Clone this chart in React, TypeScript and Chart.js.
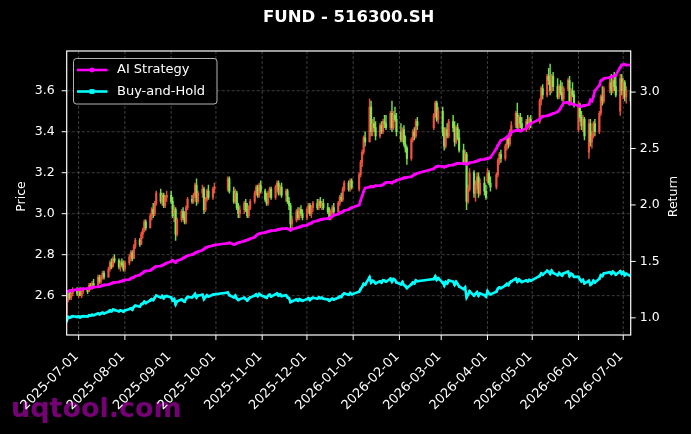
import { useEffect, useRef } from "react";
import { Chart, registerables } from "chart.js";

Chart.register(...registerables);

const TITLE = "FUND - 516300.SH";
const LEGEND_LABELS = ["AI Strategy", "Buy-and-Hold"];
const WATERMARK = "uqtool.com";
const PRICE_LABEL = "Price";
const RETURN_LABEL = "Return";

const FIRST_DAY = "2025-06-23";
const LAST_DAY = "2026-07-06";
const HOLIDAYS = [
  "2025-10-01", "2025-10-02", "2025-10-03", "2025-10-06", "2025-10-07", "2025-10-08",
  "2026-01-01", "2026-01-02",
  "2026-02-16", "2026-02-17", "2026-02-18", "2026-02-19", "2026-02-20", "2026-02-23",
  "2026-04-06", "2026-05-01", "2026-05-04", "2026-05-05", "2026-06-19",
];

const X_TICK_LABELS = [
  "2025-07-01", "2025-08-01", "2025-09-01", "2025-10-01", "2025-11-01", "2025-12-01",
  "2026-01-01", "2026-02-01", "2026-03-01", "2026-04-01", "2026-05-01", "2026-06-01", "2026-07-01",
];
const PRICE_TICKS = [2.6, 2.8, 3.0, 3.2, 3.4, 3.6];
const RETURN_TICKS = [1.0, 1.5, 2.0, 2.5, 3.0];

// [open, high, low, close] per trading day
const candles: number[][] = [
  // 2025-06
  [2.51,2.59,2.49,2.58],[2.58,2.62,2.57,2.61],[2.62,2.63,2.58,2.59],[2.59,2.62,2.58,2.61],[2.61,2.64,2.60,2.63],[2.63,2.64,2.60,2.61],
  // 2025-07
  [2.61,2.63,2.59,2.62],[2.62,2.64,2.60,2.60],[2.60,2.63,2.59,2.62],[2.62,2.64,2.61,2.63],[2.63,2.64,2.61,2.62],
  [2.62,2.66,2.62,2.65],[2.65,2.66,2.63,2.64],[2.64,2.67,2.63,2.66],[2.66,2.68,2.64,2.65],
  [2.65,2.70,2.65,2.69],[2.69,2.70,2.66,2.67],[2.67,2.70,2.66,2.69],[2.69,2.72,2.68,2.71],[2.71,2.72,2.68,2.69],
  [2.69,2.74,2.69,2.73],[2.73,2.77,2.72,2.76],[2.76,2.78,2.73,2.74],[2.74,2.79,2.74,2.78],[2.78,2.80,2.76,2.77],
  [2.77,2.78,2.73,2.74],[2.74,2.77,2.72,2.76],[2.76,2.78,2.74,2.75],[2.75,2.77,2.72,2.73],
  // 2025-08
  [2.73,2.77,2.72,2.76],
  [2.76,2.80,2.75,2.79],[2.79,2.82,2.77,2.81],[2.81,2.82,2.77,2.78],[2.78,2.85,2.78,2.84],[2.84,2.88,2.83,2.87],
  [2.87,2.88,2.84,2.85],[2.85,2.91,2.85,2.90],[2.90,2.93,2.88,2.92],[2.92,2.97,2.91,2.96],[2.96,2.97,2.92,2.93],
  [2.93,3.00,2.93,2.99],[2.99,3.03,2.97,3.02],[3.02,3.05,2.98,3.00],[3.00,3.06,2.99,3.05],[3.05,3.11,3.04,3.10],
  [3.10,3.12,3.05,3.06],[3.06,3.10,3.04,3.09],[3.09,3.10,3.03,3.04],[3.04,3.09,3.03,3.08],[3.08,3.11,3.06,3.09],
  // 2025-09
  [3.09,3.11,3.05,3.06],[3.06,3.08,2.98,2.99],[3.00,3.04,2.96,3.02],[3.02,3.03,2.87,2.90],[2.90,2.98,2.89,2.97],
  [2.97,3.02,2.96,3.01],[3.01,3.03,2.97,2.98],[2.98,3.01,2.95,2.96],[2.96,3.04,2.95,3.03],[3.03,3.08,3.02,3.07],
  [3.07,3.09,3.05,3.06],[3.06,3.10,3.05,3.09],[3.09,3.15,3.08,3.14],[3.14,3.17,3.04,3.06],[3.06,3.11,3.05,3.10],
  [3.10,3.14,3.08,3.12],[3.12,3.13,3.00,3.02],[3.02,3.08,3.01,3.07],[3.07,3.12,3.06,3.11],[3.11,3.14,3.07,3.08],
  [3.08,3.13,3.07,3.12],[3.12,3.15,3.10,3.13],
  // 2025-10
  [3.12,3.18,3.11,3.17],[3.17,3.18,3.10,3.11],
  [3.11,3.13,3.05,3.06],[3.06,3.12,3.05,3.10],[3.10,3.11,3.02,3.03],[3.03,3.05,2.98,3.00],[3.00,3.04,2.98,3.02],
  [3.02,3.06,3.00,3.05],[3.05,3.07,3.01,3.02],[3.02,3.05,2.98,2.99],[2.99,3.04,2.98,3.03],[3.03,3.07,3.02,3.06],
  [3.06,3.11,3.05,3.10],[3.10,3.14,3.09,3.13],[3.13,3.14,3.08,3.09],[3.09,3.15,3.08,3.14],[3.14,3.16,3.10,3.11],
  // 2025-11
  [3.11,3.12,3.06,3.07],[3.07,3.10,3.04,3.05],[3.05,3.11,3.04,3.10],[3.10,3.13,3.08,3.12],[3.12,3.13,3.07,3.08],
  [3.08,3.14,3.07,3.13],[3.13,3.16,3.11,3.15],[3.15,3.16,3.09,3.10],[3.10,3.14,3.09,3.13],[3.13,3.15,3.08,3.09],
  [3.09,3.12,3.06,3.11],[3.11,3.12,3.05,3.06],[3.06,3.08,3.02,3.04],[3.04,3.05,2.93,2.95],[2.95,2.99,2.93,2.97],
  [2.97,3.02,2.96,3.01],[3.01,3.03,2.97,2.98],[2.98,3.03,2.97,3.02],[3.02,3.04,2.99,3.00],[3.00,3.02,2.97,2.98],
  // 2025-12
  [2.98,3.03,2.97,3.02],[3.02,3.05,3.00,3.04],[3.04,3.05,2.99,3.00],[3.00,3.04,2.98,3.03],[3.03,3.06,3.01,3.05],
  [3.05,3.07,3.02,3.03],[3.03,3.07,3.02,3.06],[3.06,3.08,3.03,3.04],[3.04,3.06,3.02,3.05],[3.05,3.07,3.02,3.03],
  [3.03,3.05,3.00,3.01],[3.01,3.03,2.97,2.98],[2.98,3.02,2.97,3.01],[3.01,3.04,3.00,3.03],[3.03,3.05,3.00,3.01],
  [3.01,3.06,3.00,3.05],[3.05,3.09,3.04,3.08],[3.08,3.10,3.06,3.07],[3.07,3.13,3.06,3.12],[3.12,3.16,3.11,3.15],
  [3.15,3.16,3.11,3.12],[3.12,3.17,3.11,3.16],[3.16,3.17,3.12,3.13],
  // 2026-01
  [3.12,3.20,3.11,3.19],[3.19,3.26,3.18,3.25],[3.25,3.31,3.23,3.30],[3.30,3.38,3.29,3.37],[3.37,3.40,3.33,3.35],
  [3.35,3.56,3.35,3.52],[3.52,3.55,3.38,3.40],[3.40,3.46,3.38,3.44],[3.44,3.47,3.40,3.42],[3.42,3.45,3.36,3.38],
  [3.38,3.44,3.37,3.43],[3.43,3.45,3.39,3.40],[3.40,3.46,3.39,3.45],[3.45,3.48,3.42,3.44],[3.44,3.48,3.41,3.42],
  [3.42,3.50,3.41,3.49],[3.49,3.55,3.40,3.42],[3.42,3.50,3.41,3.48],[3.48,3.52,3.45,3.46],[3.46,3.49,3.38,3.40],
  // 2026-02
  [3.40,3.44,3.35,3.36],[3.36,3.42,3.35,3.41],[3.41,3.43,3.33,3.34],[3.34,3.38,3.30,3.32],[3.32,3.33,3.24,3.27],
  [3.27,3.37,3.26,3.36],[3.36,3.41,3.35,3.40],[3.40,3.42,3.36,3.38],[3.38,3.46,3.37,3.45],[3.45,3.47,3.41,3.43],
  [3.42,3.49,3.41,3.48],[3.48,3.55,3.47,3.54],[3.54,3.55,3.45,3.46],[3.46,3.52,3.44,3.50],
  // 2026-03
  [3.50,3.52,3.38,3.40],[3.40,3.42,3.31,3.33],[3.33,3.42,3.32,3.41],[3.41,3.44,3.37,3.38],[3.38,3.46,3.37,3.45],
  [3.45,3.48,3.40,3.42],[3.42,3.45,3.33,3.35],[3.35,3.43,3.34,3.42],[3.42,3.44,3.36,3.37],[3.37,3.41,3.30,3.31],
  [3.31,3.34,3.24,3.25],[3.25,3.31,3.24,3.29],[3.29,3.30,3.02,3.06],[3.06,3.14,3.05,3.12],[3.12,3.22,3.11,3.20],
  [3.20,3.21,3.08,3.10],[3.10,3.16,3.06,3.14],[3.14,3.20,3.12,3.18],[3.18,3.20,3.08,3.10],[3.10,3.17,3.09,3.15],
  [3.15,3.18,3.09,3.11],[3.11,3.14,3.07,3.08],
  // 2026-04
  [3.16,3.22,3.15,3.20],[3.20,3.21,3.14,3.15],[3.15,3.18,3.11,3.13],
  [3.13,3.20,3.12,3.19],[3.19,3.27,3.18,3.26],[3.26,3.30,3.24,3.29],[3.29,3.31,3.25,3.27],
  [3.27,3.34,3.26,3.33],[3.33,3.38,3.31,3.37],[3.37,3.38,3.32,3.34],[3.34,3.41,3.33,3.40],[3.40,3.45,3.38,3.43],
  [3.43,3.50,3.42,3.49],[3.49,3.54,3.40,3.42],[3.42,3.48,3.41,3.47],[3.47,3.49,3.42,3.44],[3.44,3.47,3.40,3.41],
  [3.41,3.46,3.40,3.45],[3.45,3.48,3.42,3.43],[3.43,3.47,3.41,3.46],[3.46,3.48,3.42,3.44],
  // 2026-05
  [3.45,3.56,3.44,3.55],[3.55,3.62,3.53,3.61],[3.61,3.63,3.56,3.58],
  [3.58,3.68,3.57,3.67],[3.67,3.71,3.63,3.65],[3.65,3.73,3.58,3.60],[3.60,3.68,3.59,3.67],[3.67,3.69,3.60,3.62],
  [3.62,3.66,3.56,3.57],[3.57,3.63,3.56,3.62],[3.62,3.65,3.58,3.59],[3.59,3.64,3.55,3.56],[3.56,3.62,3.55,3.61],
  [3.61,3.66,3.60,3.65],[3.65,3.67,3.53,3.55],[3.55,3.61,3.54,3.60],[3.60,3.64,3.57,3.58],[3.58,3.60,3.52,3.53],
  // 2026-06
  [3.41,3.55,3.40,3.53],[3.53,3.54,3.45,3.47],[3.47,3.50,3.41,3.43],[3.43,3.48,3.40,3.46],[3.46,3.47,3.36,3.38],
  [3.30,3.46,3.27,3.44],[3.44,3.46,3.33,3.35],[3.35,3.40,3.32,3.38],[3.38,3.45,3.37,3.44],[3.44,3.46,3.38,3.40],
  [3.40,3.50,3.39,3.49],[3.49,3.58,3.48,3.57],[3.57,3.62,3.53,3.55],[3.55,3.62,3.54,3.61],
  [3.61,3.66,3.59,3.64],[3.64,3.68,3.58,3.60],[3.60,3.66,3.59,3.65],[3.65,3.69,3.60,3.62],[3.62,3.67,3.57,3.58],
  [3.50,3.68,3.48,3.66],[3.66,3.68,3.58,3.60],
  // 2026-07
  [3.60,3.66,3.56,3.64],[3.64,3.65,3.55,3.57],[3.57,3.62,3.54,3.60],[3.60,3.61,3.53,3.55],
];

const aiStrategy = [
  1.23,1.235,1.24,1.24,1.245,1.25,
  1.25,1.252,1.255,1.258, 1.26,1.263,1.266,1.27,1.272, 1.275,1.278,1.282,1.286,1.29, 1.296,1.30,1.305,1.31,1.314, 1.318,1.322,1.326,1.33,
  1.335, 1.34,1.35,1.355,1.36,1.37, 1.38,1.39,1.40,1.41,1.415, 1.42,1.43,1.44,1.45,1.455, 1.46,1.465,1.47,1.48,1.485,
  1.50,1.51,1.50,1.49,1.505, 1.52,1.53,1.535,1.545,1.55, 1.56,1.565,1.575,1.58,1.585, 1.60,1.61,1.62,1.625,1.63, 1.64,1.645,
  1.66,1.665, 1.65,1.655,1.66,1.665,1.67, 1.68,1.685,1.69,1.695,1.70, 1.715,1.73,1.74,1.745,1.75,
  1.755,1.76,1.765,1.77,1.772, 1.775,1.78,1.782,1.785,1.79, 1.792,1.79,1.785,1.775,1.785, 1.795,1.80,1.805,1.81,1.815,
  1.82,1.83,1.835,1.84,1.85, 1.86,1.865,1.87,1.872,1.875, 1.88,1.885,1.89,1.90,1.91, 1.92,1.93,1.935,1.94,1.95, 1.96,1.97,1.975,
  2.00,2.04,2.08,2.12,2.15, 2.16,2.165,2.16,2.165,2.17, 2.17,2.175,2.18,2.19,2.20, 2.20,2.195,2.205,2.21,2.22,
  2.23,2.235,2.24,2.24,2.245, 2.25,2.26,2.27,2.275,2.28, 2.32,2.335,2.34,2.345,
  2.34,2.335,2.34,2.345,2.35, 2.355,2.36,2.365,2.37,2.37, 2.365,2.37,2.36,2.365,2.375, 2.38,2.385,2.39,2.395,2.40, 2.405,2.41,
  2.41,2.415,2.42, 2.50,2.53,2.55,2.57, 2.59,2.60,2.61,2.63,2.645, 2.66,2.665,2.66,2.655,2.66, 2.68,2.70,2.71,2.72,
  2.76,2.775,2.785, 2.79,2.795,2.80,2.805,2.81, 2.825,2.84,2.86,2.88,2.905, 2.91,2.895,2.90,2.895,2.89,
  2.88,2.875,2.875,2.88,2.88, 2.89,2.93,2.92,2.96,3.01, 3.06,3.10,3.11,3.12, 3.13,3.135,3.14,3.145,3.15, 3.22,3.24,
  3.245,3.245,3.24,3.24,
];

const buyHold = [
  0.97,1.008,1.000,1.008,1.015,1.008,
  1.012,1.004,1.012,1.015,1.012, 1.023,1.019,1.027,1.023, 1.039,1.031,1.039,1.046,1.039, 1.054,1.066,1.058,1.073,1.069, 1.058,1.066,1.062,1.054,
  1.066, 1.077,1.085,1.073,1.097,1.108, 1.100,1.120,1.127,1.143,1.131, 1.154,1.166,1.158,1.178,1.197, 1.181,1.193,1.174,1.189,1.193,
  1.181,1.154,1.166,1.120,1.147, 1.162,1.151,1.143,1.170,1.185, 1.181,1.193,1.212,1.181,1.197, 1.205,1.166,1.185,1.201,1.189, 1.205,1.208,
  1.224,1.201, 1.181,1.197,1.170,1.158,1.166, 1.178,1.166,1.154,1.170,1.181, 1.197,1.208,1.193,1.212,1.201,
  1.185,1.178,1.197,1.205,1.189, 1.208,1.216,1.197,1.208,1.193, 1.201,1.181,1.174,1.139,1.147, 1.162,1.151,1.166,1.158,1.151,
  1.166,1.174,1.158,1.170,1.178, 1.170,1.181,1.174,1.178,1.170, 1.162,1.151,1.162,1.170,1.162, 1.178,1.189,1.185,1.205,1.216, 1.205,1.220,1.208,
  1.232,1.255,1.274,1.301,1.293, 1.359,1.313,1.328,1.320,1.305, 1.324,1.313,1.332,1.328,1.320, 1.347,1.320,1.344,1.336,1.313,
  1.297,1.317,1.290,1.282,1.263, 1.297,1.313,1.305,1.332,1.324, 1.344,1.367,1.336,1.351,
  1.313,1.286,1.317,1.305,1.332, 1.320,1.293,1.320,1.301,1.278, 1.255,1.270,1.181,1.205,1.236, 1.197,1.212,1.228,1.197,1.216, 1.201,1.189,
  1.236,1.216,1.208, 1.232,1.259,1.270,1.263, 1.286,1.301,1.290,1.313,1.324, 1.347,1.320,1.340,1.328,1.317, 1.332,1.324,1.336,1.328,
  1.371,1.394,1.382, 1.417,1.409,1.390,1.417,1.398, 1.378,1.398,1.386,1.375,1.394, 1.409,1.371,1.390,1.382,1.363,
  1.363,1.340,1.324,1.336,1.305, 1.328,1.293,1.305,1.328,1.313, 1.347,1.378,1.371,1.394, 1.405,1.390,1.409,1.398,1.382, 1.413,1.390,
  1.405,1.378,1.390,1.371,
];

const ORIGIN = Date.UTC(2025, 6, 1);
const DAY_MS = 86400000;
const toDay = (s: string) => {
  const [y, m, d] = s.split("-").map(Number);
  return Math.round((Date.UTC(y, m - 1, d) - ORIGIN) / DAY_MS);
};

const holidaySet = new Set(HOLIDAYS.map(toDay));
const tradingDays: number[] = [];
for (let d = toDay(FIRST_DAY); d <= toDay(LAST_DAY); d++) {
  const wd = new Date(ORIGIN + d * DAY_MS).getUTCDay();
  if (wd === 0 || wd === 6 || holidaySet.has(d)) continue;
  tradingDays.push(d);
}
const xTickDays = X_TICK_LABELS.map(toDay);

const FONT = '"DejaVu Sans", "Liberation Sans", sans-serif';
const UP_COLOR = "rgba(242,84,62,0.92)";
const DOWN_COLOR = "rgba(128,236,80,0.92)";
const AI_COLOR = "#ff00ff";
const BH_COLOR = "#00ffff";

export default function App() {
  const ref = useRef<HTMLCanvasElement>(null);

  useEffect(() => {
    document.body.style.margin = "0";
    document.body.style.background = "#000";
    const canvas = ref.current;
    if (!canvas) return;

    const n = Math.min(tradingDays.length, candles.length, aiStrategy.length, buyHold.length);
    const days = tradingDays.slice(0, n);
    const cs = candles.slice(0, n);
    const colors = cs.map((c) => (c[3] >= c[0] ? UP_COLOR : DOWN_COLOR));

    const decor = {
      id: "decor",
      beforeDraw(chart: any) {
        const { ctx, width, height } = chart;
        ctx.save();
        ctx.fillStyle = "#000";
        ctx.fillRect(0, 0, width, height);
        ctx.font = `bold 27px ${FONT}`;
        ctx.fillStyle = "rgba(128,0,128,0.92)";
        ctx.textAlign = "left";
        ctx.textBaseline = "alphabetic";
        ctx.fillText(WATERMARK, 11, 417);
        ctx.restore();
      },
      beforeDatasetsDraw(chart: any) {
        const { ctx, chartArea: a, scales } = chart;
        ctx.save();
        ctx.strokeStyle = "rgba(255,255,255,0.3)";
        ctx.lineWidth = 0.8;
        ctx.setLineDash([3, 2]);
        xTickDays.forEach((v) => {
          const px = scales.x.getPixelForValue(v);
          ctx.beginPath();
          ctx.moveTo(px, a.top);
          ctx.lineTo(px, a.bottom);
          ctx.stroke();
        });
        PRICE_TICKS.forEach((v) => {
          const py = scales.y.getPixelForValue(v);
          ctx.beginPath();
          ctx.moveTo(a.left, py);
          ctx.lineTo(a.right, py);
          ctx.stroke();
        });
        ctx.restore();
      },
      afterDraw(chart: any) {
        const { ctx, chartArea: a, scales } = chart;
        ctx.save();
        // frame
        ctx.strokeStyle = "#fff";
        ctx.lineWidth = 1.2;
        ctx.setLineDash([]);
        ctx.strokeRect(a.left, a.top, a.right - a.left, a.bottom - a.top);
        // tick marks
        ctx.lineWidth = 1;
        ctx.beginPath();
        xTickDays.forEach((v) => {
          const px = scales.x.getPixelForValue(v);
          ctx.moveTo(px, a.bottom);
          ctx.lineTo(px, a.bottom + 5);
        });
        PRICE_TICKS.forEach((v) => {
          const py = scales.y.getPixelForValue(v);
          ctx.moveTo(a.left - 5, py);
          ctx.lineTo(a.left, py);
        });
        RETURN_TICKS.forEach((v) => {
          const py = scales.y1.getPixelForValue(v);
          ctx.moveTo(a.right, py);
          ctx.lineTo(a.right + 5, py);
        });
        ctx.stroke();

        // title
        ctx.fillStyle = "#fff";
        ctx.font = `bold 16.5px ${FONT}`;
        ctx.textAlign = "center";
        ctx.textBaseline = "middle";
        ctx.fillText(TITLE, (a.left + a.right) / 2, 18);

        // axis titles
        ctx.font = `12.5px ${FONT}`;
        ctx.save();
        ctx.translate(21.7, 196.5);
        ctx.rotate(-Math.PI / 2);
        ctx.fillText(PRICE_LABEL, 0, 0);
        ctx.restore();
        ctx.save();
        ctx.translate(673.3, 196.5);
        ctx.rotate(-Math.PI / 2);
        ctx.fillText(RETURN_LABEL, 0, 0);
        ctx.restore();

        // legend
        const lx = 73.5, ly = 58.5, lw = 143.5, lh = 45.5, r = 3;
        ctx.beginPath();
        ctx.moveTo(lx + r, ly);
        ctx.lineTo(lx + lw - r, ly);
        ctx.quadraticCurveTo(lx + lw, ly, lx + lw, ly + r);
        ctx.lineTo(lx + lw, ly + lh - r);
        ctx.quadraticCurveTo(lx + lw, ly + lh, lx + lw - r, ly + lh);
        ctx.lineTo(lx + r, ly + lh);
        ctx.quadraticCurveTo(lx, ly + lh, lx, ly + lh - r);
        ctx.lineTo(lx, ly + r);
        ctx.quadraticCurveTo(lx, ly, lx + r, ly);
        ctx.closePath();
        ctx.fillStyle = "rgba(0,0,0,0.8)";
        ctx.fill();
        ctx.strokeStyle = "rgba(210,210,210,0.85)";
        ctx.lineWidth = 1;
        ctx.stroke();
        const entries = [
          { label: LEGEND_LABELS[0], color: AI_COLOR, marker: "circle", y: 70 },
          { label: LEGEND_LABELS[1], color: BH_COLOR, marker: "rect", y: 91.5 },
        ];
        entries.forEach((e) => {
          ctx.strokeStyle = e.color;
          ctx.lineWidth = 2.6;
          ctx.beginPath();
          ctx.moveTo(77, e.y);
          ctx.lineTo(107.5, e.y);
          ctx.stroke();
          ctx.fillStyle = e.color;
          if (e.marker === "circle") {
            ctx.beginPath();
            ctx.arc(92, e.y, 2.4, 0, Math.PI * 2);
            ctx.fill();
          } else {
            ctx.fillRect(89.6, e.y - 2.4, 4.8, 4.8);
          }
          ctx.fillStyle = "#fff";
          ctx.font = `13px ${FONT}`;
          ctx.textAlign = "left";
          ctx.textBaseline = "middle";
          ctx.fillText(e.label, 117, e.y);
        });
        ctx.restore();
      },
    };

    const chart = new Chart(canvas, {
      type: "bar",
      data: {
        datasets: [
          {
            type: "line",
            label: LEGEND_LABELS[0],
            data: aiStrategy.slice(0, n).map((v, i) => ({ x: days[i], y: v })),
            yAxisID: "y1",
            borderColor: AI_COLOR,
            backgroundColor: AI_COLOR,
            borderWidth: 2.6,
            pointRadius: 1.5,
            pointStyle: "circle",
            pointBorderWidth: 0,
            tension: 0,
            order: 0,
          } as any,
          {
            type: "line",
            label: LEGEND_LABELS[1],
            data: buyHold.slice(0, n).map((v, i) => ({ x: days[i], y: v })),
            yAxisID: "y1",
            borderColor: BH_COLOR,
            backgroundColor: BH_COLOR,
            borderWidth: 2.6,
            pointRadius: 1.7,
            pointStyle: "rect",
            pointBorderWidth: 0,
            tension: 0,
            order: 1,
          } as any,
          {
            type: "bar",
            label: "wick",
            data: cs.map((c, i) => ({ x: days[i], y: [c[2], c[1]] })),
            yAxisID: "y",
            backgroundColor: colors,
            borderWidth: 0,
            barThickness: 0.8,
            grouped: false,
            order: 3,
          } as any,
          {
            type: "bar",
            label: "body",
            data: cs.map((c, i) => ({ x: days[i], y: [c[0], c[3]] })),
            yAxisID: "y",
            backgroundColor: colors,
            borderWidth: 0,
            barThickness: 1.5,
            minBarLength: 1,
            grouped: false,
            order: 2,
          } as any,
        ],
      },
      options: {
        responsive: false,
        animation: false,
        devicePixelRatio: 1,
        events: [],
        layout: { padding: { top: 51, left: 0, right: 0, bottom: 0 } },
        plugins: {
          legend: { display: false },
          title: { display: false },
          tooltip: { enabled: false },
        },
        scales: {
          x: {
            type: "linear",
            min: days[0],
            max: days[days.length - 1],
            offset: false,
            grid: { display: false, drawTicks: false },
            border: { display: false },
            afterBuildTicks: (s: any) => {
              s.ticks = xTickDays.map((v) => ({ value: v }));
            },
            afterFit: (s: any) => {
              s.height = 99;
            },
            ticks: {
              autoSkip: false,
              minRotation: 45,
              maxRotation: 45,
              padding: 14,
              labelOffset: -2,
              color: "#fff",
              font: { family: FONT, size: 13 },
              callback: (_v: any, i: number) => X_TICK_LABELS[i],
            },
          },
          y: {
            type: "linear",
            position: "left",
            min: 2.408,
            max: 3.794,
            grid: { display: false, drawTicks: false },
            border: { display: false },
            afterBuildTicks: (s: any) => {
              s.ticks = PRICE_TICKS.map((v) => ({ value: v }));
            },
            afterFit: (s: any) => {
              s.width = 66.7;
            },
            ticks: {
              padding: 12,
              color: "#fff",
              font: { family: FONT, size: 12.5 },
              callback: (v: any) => Number(v).toFixed(1),
            },
          },
          y1: {
            type: "linear",
            position: "right",
            min: 0.848,
            max: 3.364,
            grid: { display: false, drawTicks: false },
            border: { display: false },
            afterBuildTicks: (s: any) => {
              s.ticks = RETURN_TICKS.map((v) => ({ value: v }));
            },
            afterFit: (s: any) => {
              s.width = 60.3;
            },
            ticks: {
              padding: 9,
              color: "#fff",
              font: { family: FONT, size: 12.5 },
              callback: (v: any) => Number(v).toFixed(1),
            },
          },
        },
      } as any,
      plugins: [decor],
    });

    return () => chart.destroy();
  }, []);

  return (
    <div style={{ width: 691, height: 434, background: "#000" }}>
      <canvas ref={ref} width={691} height={434} style={{ display: "block", width: 691, height: 434 }} />
    </div>
  );
}
